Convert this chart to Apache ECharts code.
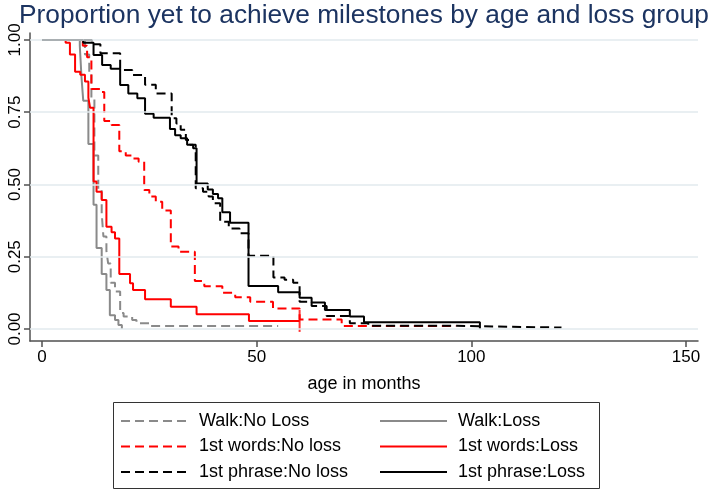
<!DOCTYPE html>
<html>
<head>
<meta charset="utf-8">
<script src="https://cdn.jsdelivr.net/npm/echarts@6/dist/echarts.min.js"></script>
<style>html,body{margin:0;padding:0;background:#fff;}#c{width:709px;height:490px;}</style>
</head>
<body>
<div id="c"></div>
<script>
// ---- data (Kaplan-Meier steps: age in months, proportion remaining) ----
const walkNoLossAge  = [0, 10, 11, 11.5, 12.2, 13.1, 13.9, 14.3, 15, 15.4, 16, 17, 18.2, 19, 21, 22, 25, 55];
const walkNoLossSurv = [1, 0.95, 0.89, 0.80, 0.60, 0.48, 0.40, 0.32, 0.27, 0.227, 0.16, 0.13, 0.055, 0.043, 0.031, 0.02, 0.01, 0.01];

const walkLossAge  = [0, 8.8, 9.2, 9.6, 10.8, 12, 12.7, 13.9, 15, 15.8, 17, 17.8, 18.6];
const walkLossSurv = [1, 0.98, 0.87, 0.79, 0.64, 0.43, 0.28, 0.19, 0.135, 0.048, 0.031, 0.014, 0];

const wordsNoLossAge  = [0, 9.5, 10.5, 11.5, 13.5, 14.5, 16.2, 18, 19.5, 21, 22.5, 23.8, 25, 26.5, 28, 30, 31.8, 35.6, 37.8, 42, 45, 48.5, 53.8, 60, 69.8, 96.5];
const wordsNoLossSurv = [1, 0.98, 0.94, 0.83, 0.82, 0.72, 0.706, 0.615, 0.60, 0.59, 0.579, 0.481, 0.458, 0.44, 0.41, 0.285, 0.267, 0.166, 0.148, 0.125, 0.11, 0.094, 0.071, 0.033, 0.01, 0.01];

const wordsLossAge  = [0, 5.5, 6.5, 7.7, 8.9, 10, 10.8, 11.2, 12, 12.7, 13.9, 15, 16.2, 17, 18, 20.5, 21.2, 24, 30, 36, 48.2, 60];
const wordsLossSurv = [1, 0.99, 0.95, 0.89, 0.88, 0.856, 0.80, 0.765, 0.51, 0.475, 0.446, 0.354, 0.335, 0.313, 0.19, 0.158, 0.135, 0.103, 0.077, 0.051, 0.028, 0.028];

const phraseNoLossAge  = [0, 11.6, 13.6, 18.2, 21, 24, 26.5, 30.2, 31.3, 32.3, 33.5, 34.5, 35.8, 37.5, 38.8, 39.8, 41.5, 43.5, 46, 48.1, 53.9, 56.5, 58.5, 60, 62.8, 66.3, 71.7, 76, 96, 121];
const phraseNoLossSurv = [1, 0.985, 0.954, 0.896, 0.879, 0.845, 0.815, 0.729, 0.711, 0.689, 0.654, 0.637, 0.487, 0.475, 0.458, 0.435, 0.371, 0.348, 0.331, 0.253, 0.178, 0.17, 0.16, 0.094, 0.08, 0.045, 0.02, 0.011, 0.005, 0.005];

const phraseLossAge  = [0, 9.6, 12, 14, 16, 18.2, 20.1, 22.2, 24, 26, 29.8, 31, 32.3, 33.8, 35.2, 36, 38.6, 39.8, 41, 42, 43.8, 48.1, 55, 60, 62.8, 65.9, 71.7, 75, 102];
const phraseLossSurv = [1, 0.99, 0.948, 0.913, 0.90, 0.844, 0.815, 0.798, 0.745, 0.731, 0.692, 0.67, 0.66, 0.637, 0.625, 0.503, 0.483, 0.467, 0.452, 0.404, 0.368, 0.149, 0.127, 0.108, 0.092, 0.066, 0.043, 0.023, 0];

const xTicks = [0, 50, 100, 150];
const yTicks = [0, 0.25, 0.5, 0.75, 1];

const names = ['Walk:No Loss', 'Walk:Loss', '1st words:No loss', '1st words:Loss', '1st phrase:No loss', '1st phrase:Loss'];

// ---- build ----
const pairs = (a, s) => a.map((v, i) => [v, s[i]]);
const FONT = 'Liberation Sans, Arial, Helvetica, sans-serif';
const DASH = [9, 5];
function km(name, a, s, color, dashed) {
  return {
    name: name, type: 'line', step: 'end', symbol: 'none', z: 3,
    data: pairs(a, s),
    lineStyle: { color: color, width: 2, type: dashed ? DASH : 'solid' },
    itemStyle: { color: color },
    emphasis: { disabled: true }
  };
}
const grey = '#8a8a8a', red = '#ff0000', black = '#000000';
const series = [
  {
    type: 'line', data: [], silent: true, z: 1,
    markLine: {
      silent: true, symbol: 'none', label: { show: false },
      lineStyle: { color: '#e2eaee', width: 1.5, type: 'solid' },
      data: yTicks.map(v => ({ yAxis: v }))
    }
  },
  km(names[0], walkNoLossAge, walkNoLossSurv, grey, true),
  km(names[1], walkLossAge, walkLossSurv, grey, false),
  km(names[2], wordsNoLossAge, wordsNoLossSurv, red, true),
  km(names[3], wordsLossAge, wordsLossSurv, red, false),
  km(names[4], phraseNoLossAge, phraseNoLossSurv, black, true),
  km(names[5], phraseLossAge, phraseLossSurv, black, false),
  {
    // censoring tick at the end of the 1st words:Loss curve
    type: 'scatter', silent: true, z: 4,
    data: [[wordsLossAge[wordsLossAge.length - 1], wordsLossSurv[wordsLossSurv.length - 1]]],
    symbol: 'rect', symbolSize: [2, 22], itemStyle: { color: red }
  }
];

const legendCommon = {
  orient: 'vertical', itemWidth: 67, itemHeight: 18, itemGap: 7.5,
  padding: 0, height: 78, width: 220,
  selectedMode: false,
  itemStyle: { opacity: 0, color: 'rgba(0,0,0,0)', borderColor: 'rgba(0,0,0,0)', borderWidth: 0 },
  textStyle: { fontFamily: FONT, fontSize: 18, lineHeight: 18, color: '#000', padding: [0, 0, 0, 6] }
};

const chart = echarts.init(document.getElementById('c'), null, { renderer: 'canvas' });
chart.setOption({
  animation: false,
  backgroundColor: '#ffffff',
  title: {
    text: 'Proportion yet to achieve milestones by age and loss group',
    left: 14, top: -2,
    textStyle: { fontFamily: FONT, fontSize: 26.3, fontWeight: 'normal', color: '#1c3461' }
  },
  grid: { left: 30, right: 11, top: 33, bottom: 149 },
  xAxis: {
    type: 'value', min: -2.8, max: 152.8,
    name: 'age in months', nameLocation: 'middle', nameGap: 34,
    nameTextStyle: { fontFamily: FONT, fontSize: 18, color: '#000' },
    axisLine: { show: true, onZero: false, lineStyle: { color: '#505050', width: 1.5 } },
    axisTick: { show: true, length: 6, customValues: xTicks, lineStyle: { color: '#505050', width: 1.5 } },
    axisLabel: { customValues: xTicks, margin: 8, fontFamily: FONT, fontSize: 17, color: '#000' },
    splitLine: { show: false }
  },
  yAxis: {
    type: 'value', min: -0.0415, max: 1.024,
    axisLine: { show: true, onZero: false, lineStyle: { color: '#505050', width: 1.5 } },
    axisTick: { show: true, length: 6, customValues: yTicks, lineStyle: { color: '#505050', width: 1.5 } },
    axisLabel: {
      customValues: yTicks, rotate: 90, margin: 6, fontFamily: FONT, fontSize: 17, color: '#000',
      formatter: v => v.toFixed(2)
    },
    splitLine: { show: false }
  },
  legend: [
    Object.assign({}, legendCommon, { left: 120, top: 412, data: [names[0], names[2], names[4]] }),
    Object.assign({}, legendCommon, { left: 379, top: 412, data: [names[1], names[3], names[5]] })
  ],
  graphic: [{
    type: 'rect', silent: true,
    shape: { x: 113.5, y: 402.5, width: 486, height: 86 },
    style: { fill: 'none', stroke: '#333', lineWidth: 1 }
  }],
  series: series
});
</script>
</body>
</html>
